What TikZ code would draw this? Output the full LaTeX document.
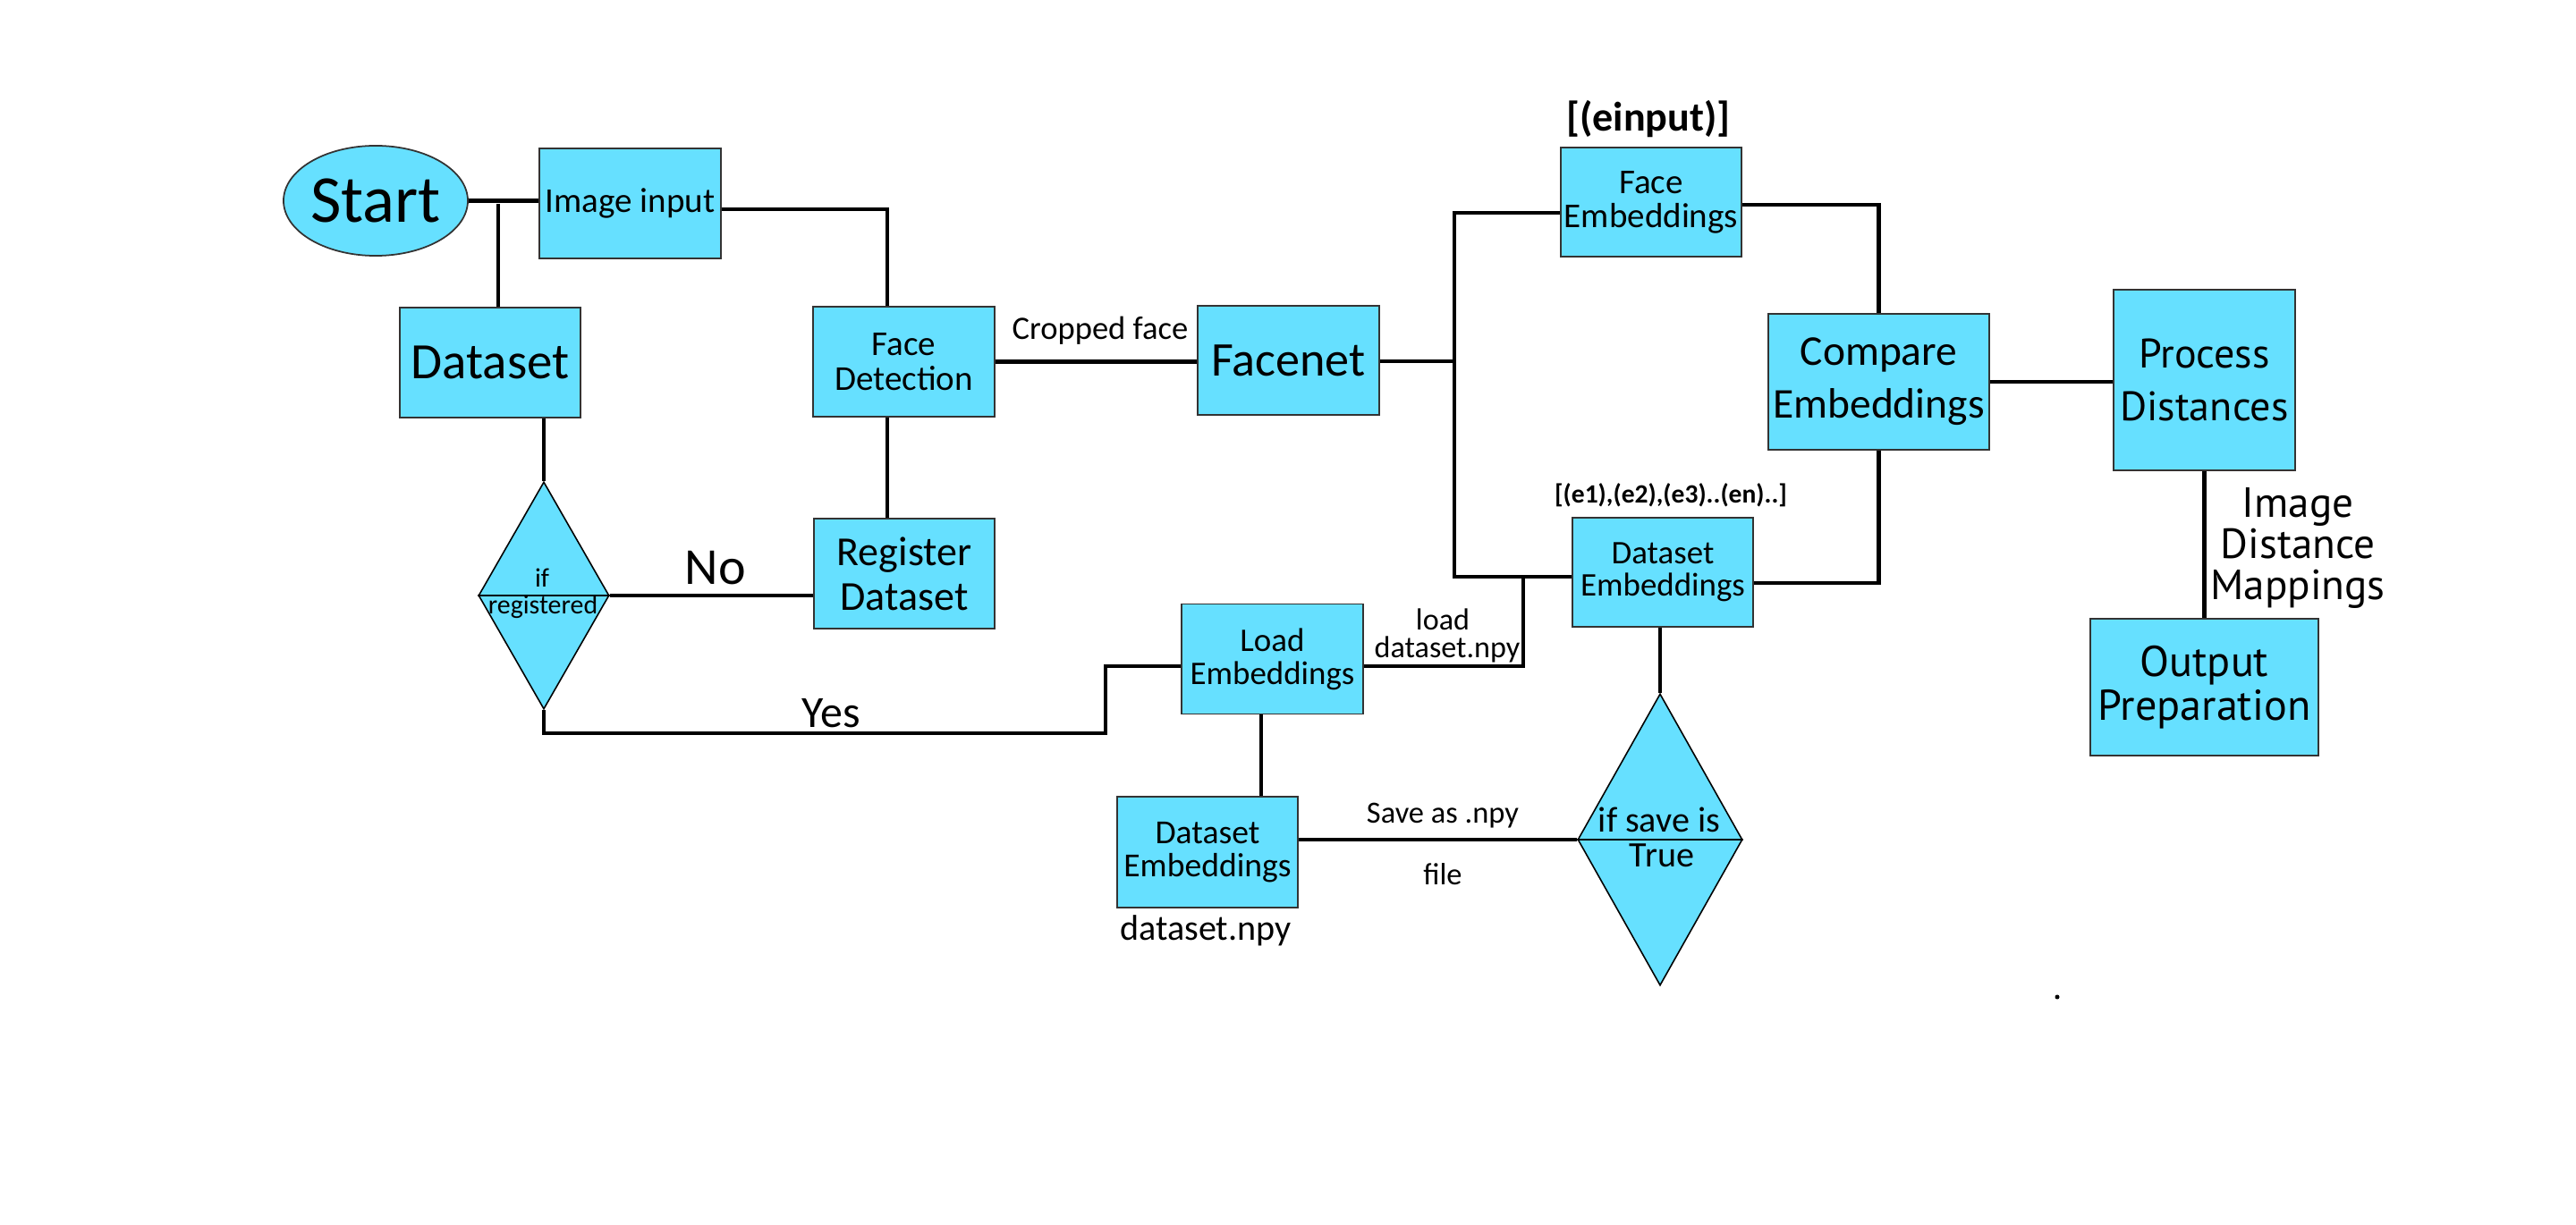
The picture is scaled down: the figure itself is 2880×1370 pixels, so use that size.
\documentclass[tikz,border=0pt]{standalone}
\usepackage{fontspec}
\setmainfont{Carlito}
\newfontfamily\ptsans{PT Sans}
\usetikzlibrary{shapes.geometric,calc}
\definecolor{boxfill}{RGB}{102,224,255}
\newcommand{\fsz}[2]{\fontsize{#1}{#2}\selectfont}
\begin{document}
\begin{tikzpicture}[x=0.01cm,y=-0.01cm,
  box/.style={draw=black!80,line width=0.5pt,fill=boxfill,inner sep=0pt,align=center},
  dia/.style={diamond,draw=black,line width=0.45pt,fill=boxfill,inner sep=0pt,aspect=0.6},
  conn/.style={line width=1.3pt,draw=black},
  lbl/.style={anchor=base,inner sep=0pt}]
\useasboundingbox (0,0) rectangle (2880,1370);

% boxes
\node[ellipse,draw=black!80,line width=0.5pt,fill=boxfill,minimum width=2.02cm,minimum height=1.23cm,inner sep=0pt,font=\fsz{21.3}{21.3}] (start) at (420,224.5) {Start};
\node[box,minimum width=2.03cm,minimum height=1.23cm,font=\fsz{11.1}{11.1}] (img) at (704.5,227.5) {Image input};
\node[box,minimum width=2.02cm,minimum height=1.23cm,font=\fsz{16.2}{16.2}] (ds) at (548,405.5) {Dataset};
\node[box,minimum width=2.03cm,minimum height=1.23cm,font=\fsz{11.1}{11.1}] (fd) at (1010.5,404.5) {Face\\Detection};
\node[box,minimum width=2.02cm,minimum height=1.23cm,font=\fsz{13.1}{14.2}] (reg) at (1011,641.5) {Register\\Dataset};
\node[dia,minimum width=1.46cm,minimum height=2.54cm] (d1) at (608,666) {};
\node[box,minimum width=2.03cm,minimum height=1.22cm,font=\fsz{15.4}{15.4}] (fn) at (1440.5,403) {Facenet};
\node[box,minimum width=2.02cm,minimum height=1.22cm,font=\fsz{11.1}{10.8}] (fe) at (1846,226) {Face\\Embeddings};
\node[box,minimum width=2.02cm,minimum height=1.22cm,font=\fsz{10.5}{10.2}] (dse) at (1859,640) {Dataset\\Embeddings};
\node[box,minimum width=2.03cm,minimum height=1.23cm,font=\fsz{10.5}{10.5}] (load) at (1422.5,737) {Load\\Embeddings};
\node[box,minimum width=2.02cm,minimum height=1.24cm,font=\fsz{10.7}{10.5}] (dse2) at (1350,953) {Dataset\\Embeddings};
\node[dia,minimum width=1.84cm,minimum height=3.26cm] (d2) at (1856,939) {};
\node[box,minimum width=2.47cm,minimum height=1.52cm,font=\fsz{13.5}{16.8}] (cmp) at (2100.5,427) {Compare\\Embeddings};
\node[box,minimum width=2.03cm,minimum height=2.02cm,font=\ptsans\fsz{13.1}{16.8}] (proc) at (2464.5,425) {Process\\Distances};
\node[box,minimum width=2.55cm,minimum height=1.53cm,font=\ptsans\fsz{13.7}{13.9}] (out) at (2464.5,768.5) {Output\\Preparation};

% diamond middle lines
\draw[line width=0.45pt] (d1.west) -- (d1.east);
\draw[line width=0.45pt] (d2.west) -- (d2.east);

% helper coordinates
\coordinate (j1) at (557,228);
\coordinate (c1) at (992,234);
\coordinate (c2) at (1236,820);
\coordinate (c3) at (1626,404);
\coordinate (c4) at (1703,0);
\coordinate (c5) at (1410,0);
\coordinate (hfe1) at (0,238);   % level of line into Face Embeddings (left)
\coordinate (hfe2) at (0,229);   % level of line out of Face Embeddings (right)
\coordinate (hds1) at (0,645);   % level of line into Dataset Embeddings (left)
\coordinate (hds2) at (0,652);   % level of line into Dataset Embeddings (right)
\coordinate (hld) at (0,745);    % level of lines at Load Embeddings

% connectors
\draw[conn] (start.east) -- (start.east -| img.west);
\draw[conn] (j1) -- (j1 |- ds.north);
\draw[conn] (img.east |- c1) -- (c1) -- (c1 |- fd.north);
\draw[conn] (c1 |- fd.south) -- (c1 |- reg.north);
\draw[conn] (d1.north |- ds.south) -- (d1.north);
\draw[conn] (d1.east) -- (d1.east -| reg.west);
\draw[conn] (d1.south) -- (d1.south |- c2) -- (c2) -- (c2 |- hld) -- (load.west |- hld);
\draw[conn] (fd.east) -- (fd.east -| fn.west);
\draw[conn] (fn.east |- c3) -- (c3);
\draw[conn] (fe.west |- hfe1) -| (c3) |- (dse.west |- hds1);
\draw[conn] (load.east |- hld) -| (c4 |- hds1);
\draw[conn] (fe.east |- hfe2) -| (cmp.north);
\draw[conn] (cmp.south) |- (dse.east |- hds2);
\draw[conn] (cmp.east) -- (cmp.east -| proc.west);
\draw[conn] (proc.south) -- (out.north);
\draw[conn] (d2.north |- dse.south) -- (d2.north);
\draw[conn] (dse2.east |- d2.west) -- (d2.west);
\draw[conn] (c5 |- load.south) -- (c5 |- dse2.north);

% labels
\node[lbl,font=\fsz{16.5}{16.5}] (tno) at (800,654) {No};
\node[lbl,font=\fsz{14.2}{14.2}] (tyes) at (929,814) {Yes};
\node[lbl,font=\fsz{8.5}{8.5}] (tif) at (606,657) {if};
\node[lbl,font=\fsz{8.5}{8.5}] (treg) at (607,687) {registered};
\node[lbl,font=\fsz{10.4}{10.4}] (tcrop) at (1230,380) {Cropped face};
\node[lbl,font=\bfseries\fsz{13.1}{13.1}] (tein) at (1843,147) {[(einput)]};
\node[lbl,font=\bfseries\fsz{8.4}{8.4}] (te1) at (1868,563) {[(e1),(e2),(e3)..(en)..]};
\node[lbl,font=\fsz{9.7}{9.7}] (tload) at (1613,705) {load};
\node[lbl,font=\fsz{9.7}{9.7}] (tnpy) at (1618,736) {dataset.npy};
\node[lbl,font=\fsz{11.4}{11.4}] (tnpy2) at (1348,1051) {dataset.npy};
\node[lbl,font=\fsz{9.8}{9.8}] (tsave) at (1613,920) {Save as .npy};
\node[lbl,font=\fsz{9.8}{9.8}] (tfile) at (1613,990) {file};
\node[lbl,font=\fsz{11.4}{11.4}] (tifs) at (1855,930) {if save is};
\node[lbl,font=\fsz{11.4}{11.4}] (ttrue) at (1858,970) {True};
\node[lbl,font=\ptsans\fsz{13.4}{13.4}] (tim1) at (2569,579) {Image};
\node[lbl,font=\ptsans\fsz{13.4}{13.4}] (tim2) at (2569,625) {Distance};
\node[lbl,font=\ptsans\fsz{13.4}{13.4}] (tim3) at (2569,671) {Mappings};

\fill (2300,1115) circle (0.025cm);
\end{tikzpicture}
\end{document}
